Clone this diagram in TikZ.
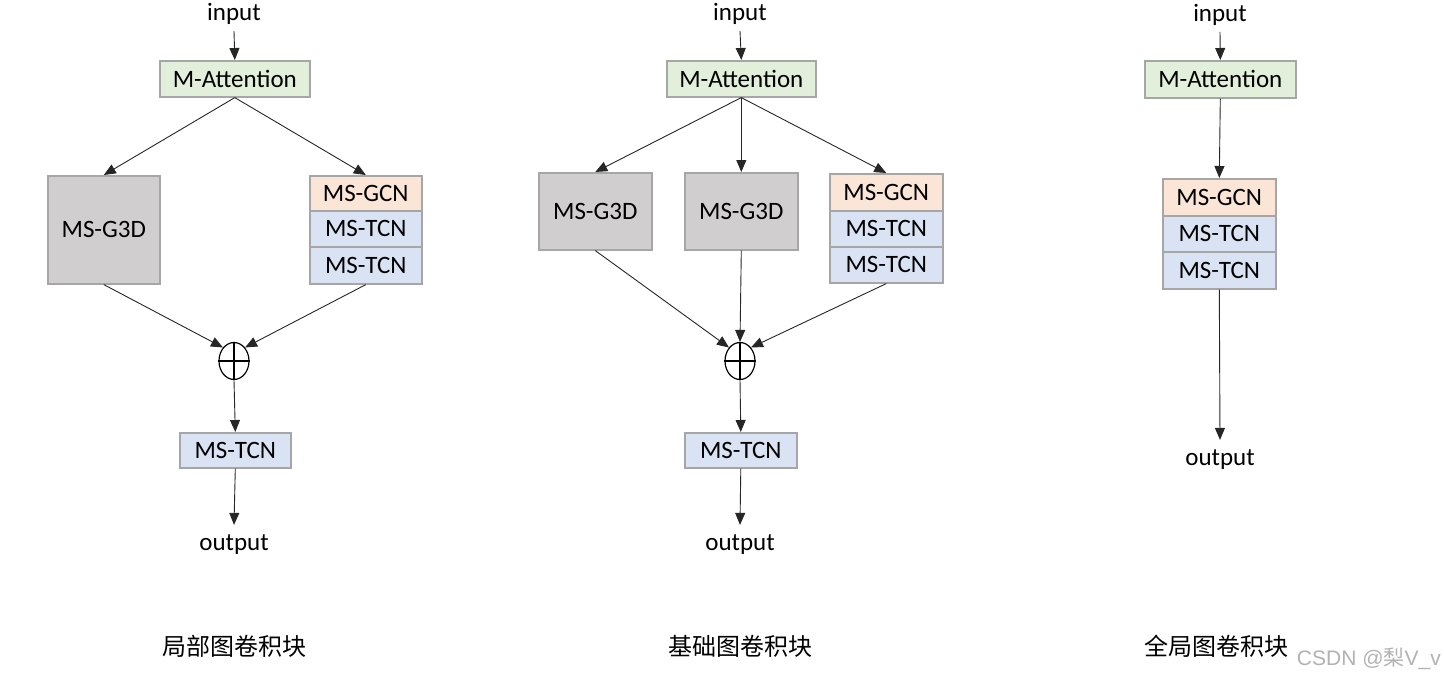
\documentclass[tikz,border=0pt]{standalone}
\usepackage{fontspec}
\setmainfont{Carlito}
\newfontfamily\cjk{Noto Sans CJK SC}
\newfontfamily\wmfont{Liberation Sans}
\usetikzlibrary{shapes.geometric,arrows.meta}
\definecolor{attgreen}{HTML}{E2EFDA}
\definecolor{gcnpeach}{HTML}{FBE5D6}
\definecolor{tcnblue}{HTML}{DAE3F3}
\definecolor{g3dgray}{HTML}{D0CECE}
\definecolor{bordergray}{HTML}{A6A6A6}
\begin{document}
\begin{tikzpicture}[x=1pt,y=-1pt,
  every node/.style={font=\fontsize{25}{29}\selectfont},
  blk/.style={draw=bordergray,line width=1.6pt,inner sep=0pt,anchor=north west},
  lbl/.style={inner sep=0pt},
  arr/.style={-{Triangle[length=12pt,width=10pt]},line width=0.9pt,draw=black!85},
  plus/.style={draw=black,ellipse,line width=1.2pt,minimum width=30pt,minimum height=37pt,inner sep=0pt},
  captext/.style={font=\cjk\fontsize{24}{28}\selectfont,inner sep=0pt}
]
\useasboundingbox (0,0) rectangle (1444,680);

% ---------------- Panel 1 ----------------
\node[lbl] (in1) at (234,14) {input};
\node[blk,fill=attgreen,minimum width=150pt,minimum height=36pt] (att1) at (159,60) {M-Attention};
\node[blk,fill=g3dgray,minimum width=112pt,minimum height=108pt] (g3d1) at (47,175) {MS-G3D};
\node[blk,fill=gcnpeach,minimum width=112pt,minimum height=35pt] (gcn1) at (309,175) {MS-GCN};
\node[blk,fill=tcnblue,minimum width=112pt,minimum height=36pt] (tcna1) at (309,210) {MS-TCN};
\node[blk,fill=tcnblue,minimum width=112pt,minimum height=37pt] (tcnb1) at (309,246) {MS-TCN};
\node[plus] (p1) at (234,361) {};
\draw[line width=1.2pt] (p1.north) -- (p1.south) (p1.west) -- (p1.east);
\node[blk,fill=tcnblue,minimum width=111pt,minimum height=35pt] (tcn1) at (179,432) {MS-TCN};
\node[lbl] (out1) at (234,545) {output};
\node[captext] (cap1) at (234,646) {局部图卷积块};

\draw[arr] (in1.south) ++(0,6) -- (att1.north);
\draw[arr] (att1.south) -- (g3d1.north);
\draw[arr] (att1.south) -- (gcn1.north);
\draw[arr] (g3d1.south) -- (p1.north west);
\draw[arr] (tcnb1.south) -- (p1.north east);
\draw[arr] (p1.south) -- (tcn1.north);
\draw[arr] (tcn1.south) -- ([yshift=10pt]out1.north);

% ---------------- Panel 2 ----------------
\node[lbl] (in2) at (740,14) {input};
\node[blk,fill=attgreen,minimum width=149pt,minimum height=36pt] (att2) at (666,60) {M-Attention};
\node[blk,fill=g3dgray,minimum width=113pt,minimum height=77pt] (g3da2) at (538,172) {MS-G3D};
\node[blk,fill=g3dgray,minimum width=113pt,minimum height=77pt] (g3db2) at (684,172) {MS-G3D};
\node[blk,fill=gcnpeach,minimum width=113pt,minimum height=37pt] (gcn2) at (829,173) {MS-GCN};
\node[blk,fill=tcnblue,minimum width=113pt,minimum height=36pt] (tcna2) at (829,210) {MS-TCN};
\node[blk,fill=tcnblue,minimum width=113pt,minimum height=36pt] (tcnb2) at (829,246) {MS-TCN};
\node[plus] (p2) at (740,361) {};
\draw[line width=1.2pt] (p2.north) -- (p2.south) (p2.west) -- (p2.east);
\node[blk,fill=tcnblue,minimum width=112pt,minimum height=35pt] (tcn2) at (684,432) {MS-TCN};
\node[lbl] (out2) at (740,545) {output};
\node[captext] (cap2) at (740,646) {基础图卷积块};

\draw[arr] (in2.south) ++(0,6) -- (att2.north);
\draw[arr] (att2.south) -- (g3da2.north);
\draw[arr] (att2.south) -- (g3db2.north);
\draw[arr] (att2.south) -- (gcn2.north);
\draw[arr] (g3da2.south) -- (p2.north west);
\draw[arr] (g3db2.south) -- (p2.north);
\draw[arr] (tcnb2.south) -- (p2.north east);
\draw[arr] (p2.south) -- (tcn2.north);
\draw[arr] (tcn2.south) -- ([yshift=10pt]out2.north);

% ---------------- Panel 3 ----------------
\node[lbl] (in3) at (1220,15) {input};
\node[blk,fill=attgreen,minimum width=151pt,minimum height=37pt] (att3) at (1144,60) {M-Attention};
\node[blk,fill=gcnpeach,minimum width=113pt,minimum height=37pt] (gcn3) at (1162,178) {MS-GCN};
\node[blk,fill=tcnblue,minimum width=113pt,minimum height=36pt] (tcna3) at (1162,215) {MS-TCN};
\node[blk,fill=tcnblue,minimum width=113pt,minimum height=37pt] (tcnb3) at (1162,251) {MS-TCN};
\node[lbl] (out3) at (1220,460) {output};
\node[captext] (cap3) at (1216,646) {全局图卷积块};

\draw[arr] (in3.south) ++(0,6) -- (att3.north);
\draw[arr] (att3.south) -- (gcn3.north);
\draw[arr] (tcnb3.south) -- ([yshift=10pt]out3.north);

% watermark
\node[inner sep=0pt,anchor=east,text=black!30,font=\wmfont\fontsize{21}{25}\selectfont] (wm) at (1441,659) {CSDN @{\cjk 梨}V\_v};
\end{tikzpicture}
\end{document}
